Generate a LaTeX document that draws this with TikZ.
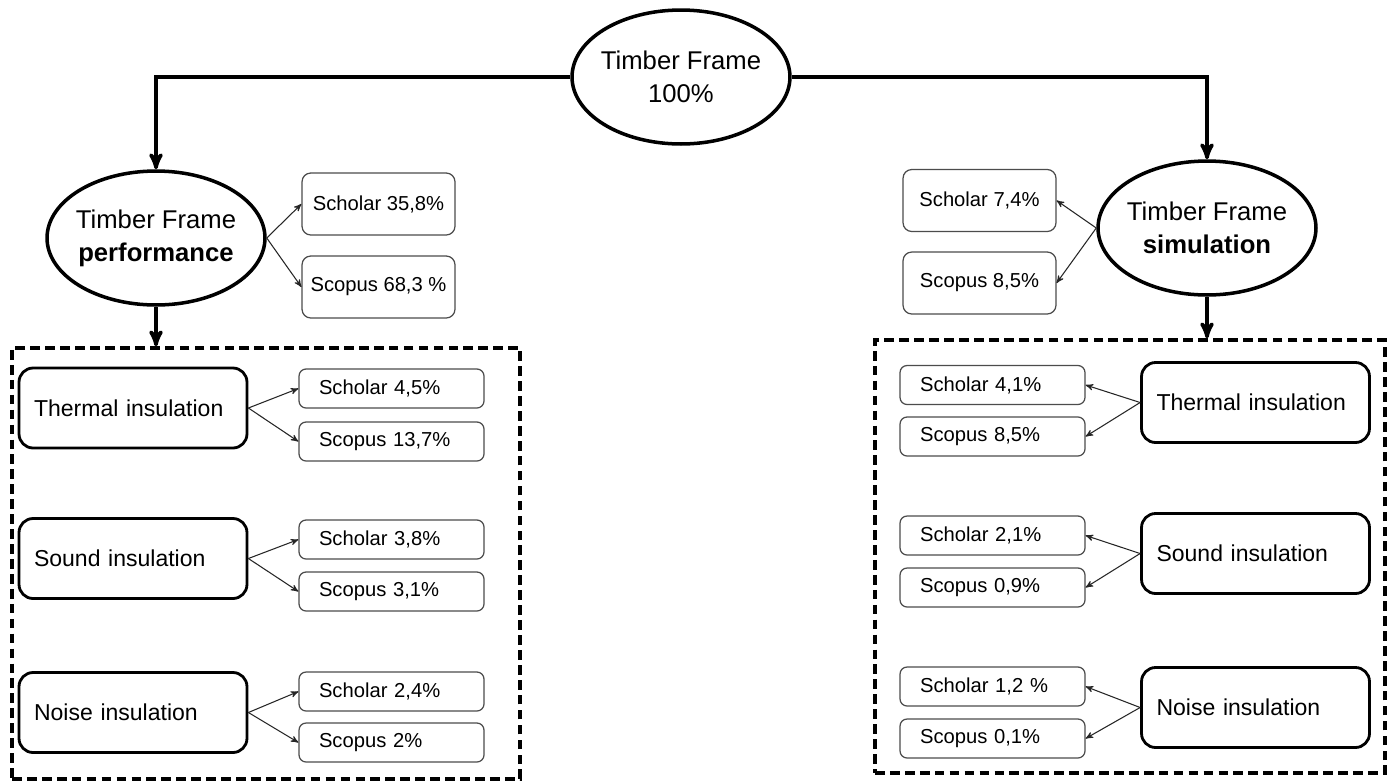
\documentclass[tikz,border=0pt]{standalone}
\usepackage{fontspec}
\setmainfont{Liberation Sans}
\usetikzlibrary{arrows, shapes.geometric}

\begin{document}
\begin{tikzpicture}[x=0.02cm, y=-0.02cm, >=stealth']
    \tikzstyle{frame}=[ellipse, draw, line width=2pt, inner ysep=0pt, inner xsep=-3pt,
                       minimum width=4.36cm, minimum height=2.68cm, align=center,
                       font=\fontsize{14.6}{18.7}\selectfont]
    \tikzstyle{group}=[rectangle, draw, line width=2pt, dash pattern=on 5.5pt off 3pt]
    \tikzstyle{topic}=[rectangle, draw, rounded corners=8pt, line width=1.6pt,
                       minimum width=4.56cm, minimum height=1.6cm, inner xsep=0.3cm,
                       text width=3.96cm, align=left, font=\fontsize{13.1}{15}\selectfont]
    \tikzstyle{total}=[rectangle, draw=black!70, rounded corners=5pt, line width=0.7pt,
                       minimum width=3.06cm, minimum height=1.24cm,
                       font=\fontsize{11.5}{13}\selectfont]
    \tikzstyle{hit}=[rectangle, draw=black!70, rounded corners=4pt, line width=0.7pt,
                     minimum width=3.7cm, minimum height=0.78cm, inner xsep=0.4cm,
                     text width=2.9cm, align=left, font=\fontsize{11.5}{13}\selectfont]
    \tikzstyle{link}=[->, line width=2pt]
    \tikzstyle{branch}=[->, line width=0.6pt, black!85]

    \path[fill=white, use as bounding box] (0,0) rectangle (1393,782);

    % dashed groups
    \node[group, minimum width=10.16cm, minimum height=8.62cm] (perfgrp) at (266,563.5) {};
    \node[group, minimum width=10.2cm, minimum height=8.66cm]  (simugrp) at (1130,556.5) {};

    % main ellipses
    \node[frame] (root) at (681,77)   {Timber Frame\\100\%};
    \node[frame] (perf) at (156,238)  {Timber Frame\\\textbf{performance}};
    \node[frame] (simu) at (1207,228) {Timber Frame\\\textbf{simulation}};

    \node[total] (perfsch) at (378.5,204) {Scholar 35,8\%};
    \node[total] (perfsco) at (378.5,287) {Scopus 68,3 \%};
    \node[total] (simusch) at (979.5,200.5) {Scholar 7,4\%};
    \node[total] (simusco) at (979.5,283)   {Scopus 8,5\%};

    % performance side
    \node[topic] (pthermal) at (133,408)   {Thermal insulation};
    \node[topic] (psound)   at (133,558.5) {Sound insulation};
    \node[topic] (pnoise)   at (133,712.5) {Noise insulation};

    \node[hit] (pthsch) at (391.5,388.5) {Scholar 4,5\%};
    \node[hit] (pthsco) at (391.5,441.5) {Scopus 13,7\%};
    \node[hit] (psosch) at (391.5,539.5) {Scholar 3,8\%};
    \node[hit] (psosco) at (391.5,591.5) {Scopus 3,1\%};
    \node[hit] (pnosch) at (391.5,691.5) {Scholar 2,4\%};
    \node[hit] (pnosco) at (391.5,742.5) {Scopus 2\%};

    % simulation side
    \node[topic] (sthermal) at (1255.5,402.5) {Thermal insulation};
    \node[topic] (ssound)   at (1255.5,553.5) {Sound insulation};
    \node[topic] (snoise)   at (1255.5,707.5) {Noise insulation};

    \node[hit] (sthsch) at (992.5,385)   {Scholar 4,1\%};
    \node[hit] (sthsco) at (992.5,436.5) {Scopus 8,5\%};
    \node[hit] (ssosch) at (992.5,535.5) {Scholar 2,1\%};
    \node[hit] (ssosco) at (992.5,587.5) {Scopus 0,9\%};
    \node[hit] (snosch) at (992.5,686.5) {Scholar 1,2 \%};
    \node[hit] (snosco) at (992.5,738.5) {Scopus 0,1\%};

    \draw[link] (root.west) -| (perf.north);
    \draw[link] (root.east) -| (simu.north);
    \draw[link] (perf.south) -- (perf.south |- perfgrp.north);
    \draw[link] (simu.south) -- (simu.south |- simugrp.north);

    \path[branch] (perf.east) edge (perfsch.west)
                              edge (perfsco.west)
                  (simu.west) edge (simusch.east)
                              edge (simusco.east)
                  (pthermal.east) edge (pthsch.west)
                                  edge (pthsco.west)
                  (psound.east)   edge (psosch.west)
                                  edge (psosco.west)
                  (pnoise.east)   edge (pnosch.west)
                                  edge (pnosco.west)
                  (sthermal.west) edge (sthsch.east)
                                  edge (sthsco.east)
                  (ssound.west)   edge (ssosch.east)
                                  edge (ssosco.east)
                  (snoise.west)   edge (snosch.east)
                                  edge (snosco.east);
\end{tikzpicture}
\end{document}
